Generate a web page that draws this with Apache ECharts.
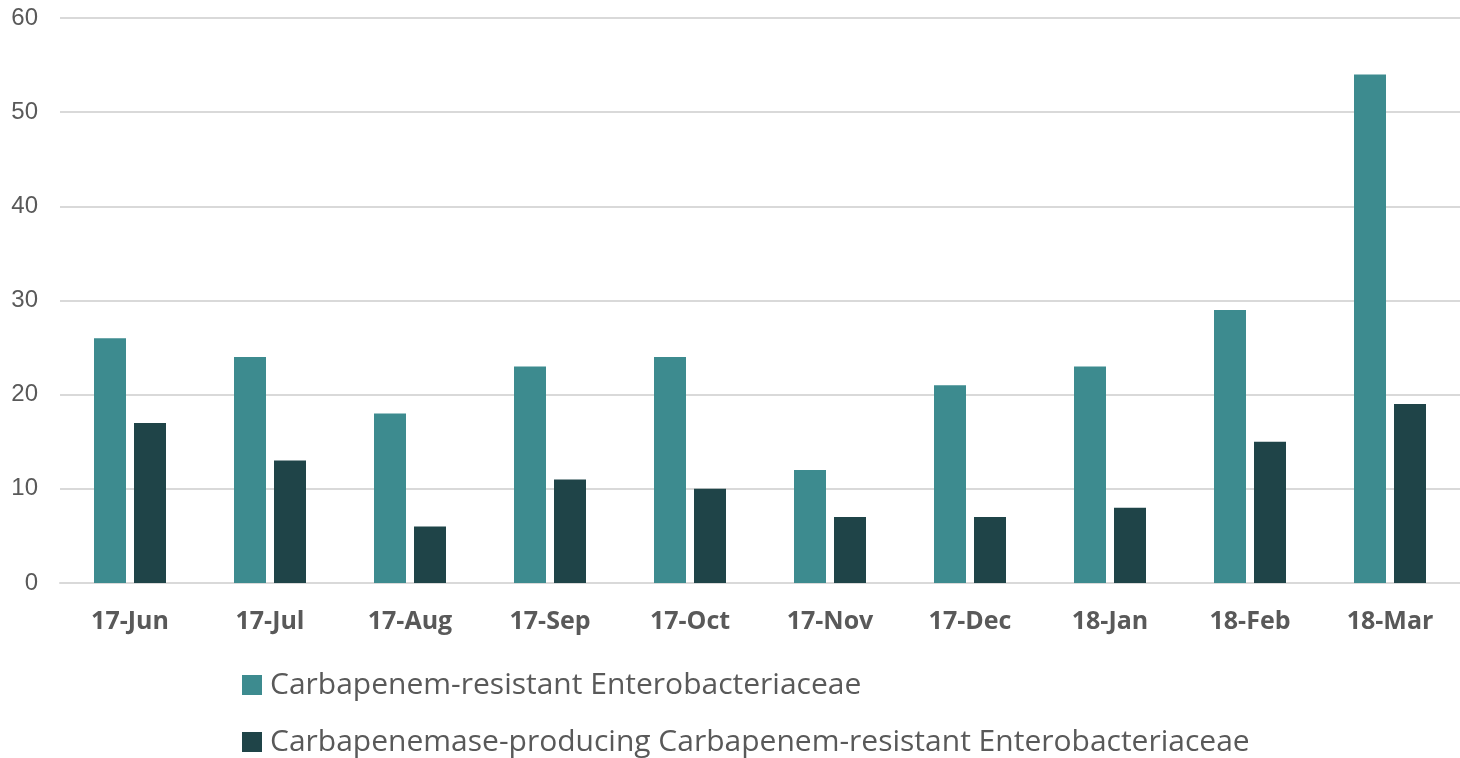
<!DOCTYPE html>
<html>
<head>
    <meta charset="utf-8">
    <title>CRE</title>
    <script type="text/javascript" src="https://cdn.jsdelivr.net/npm/echarts@6/dist/echarts.min.js"></script>
    <style>
        html, body { margin: 0; padding: 0; background: #fff; }
        #main { width: 1460px; height: 758px; }
    </style>
</head>
<body>
    <div id="main"></div>
    <script type="text/javascript">
        var months = ['17-Jun', '17-Jul', '17-Aug', '17-Sep', '17-Oct', '17-Nov', '17-Dec', '18-Jan', '18-Feb', '18-Mar'];
        var creValues = [26, 24, 18, 23, 24, 12, 21, 23, 29, 54];
        var cpCreValues = [17, 13, 6, 11, 10, 7, 7, 8, 15, 19];
        var seriesNames = ['Carbapenem-resistant Enterobacteriaceae', 'Carbapenemase-producing Carbapenem-resistant Enterobacteriaceae'];

        // one legend per row, stacked like the original
        var legendTops = [670, 727];
        var legends = [];
        for (var i = 0; i < seriesNames.length; i++) {
            legends.push({
                left: 242,
                top: legendTops[i],
                padding: 0,
                itemWidth: 20,
                itemHeight: 20,
                itemGap: 0,
                icon: 'rect',
                selectedMode: false,
                textStyle: { fontFamily: 'Open Sans', fontSize: 30, lineHeight: 30, color: '#595959', padding: [0, 0, 0, 3] },
                data: [seriesNames[i]]
            });
        }

        var chart = echarts.init(document.getElementById('main'));
        chart.setOption({
            animation: false,
            grid: { left: 60, right: 0, top: 18, bottom: 175 },
            legend: legends,
            xAxis: {
                type: 'category',
                data: months,
                axisLine: { lineStyle: { color: '#d9d9d9', width: 2 } },
                axisTick: { show: false },
                axisLabel: {
                    margin: 26,
                    fontFamily: 'Open Sans',
                    fontWeight: 'bold',
                    fontSize: 25,
                    color: '#595959'
                }
            },
            yAxis: {
                type: 'value',
                min: 0,
                max: 60,
                interval: 10,
                axisLine: { show: false },
                axisTick: { show: false },
                splitLine: { lineStyle: { color: '#d9d9d9', width: 2 } },
                axisLabel: {
                    margin: 22,
                    fontFamily: 'Liberation Sans',
                    fontSize: 24,
                    color: '#595959'
                }
            },
            series: [
                {
                    name: seriesNames[0],
                    type: 'bar',
                    data: creValues,
                    barWidth: 32,
                    barGap: '25%',
                    itemStyle: { color: '#3d8b8f' }
                },
                {
                    name: seriesNames[1],
                    type: 'bar',
                    data: cpCreValues,
                    barWidth: 32,
                    itemStyle: { color: '#1f4448' }
                }
            ]
        });
    </script>
</body>
</html>
